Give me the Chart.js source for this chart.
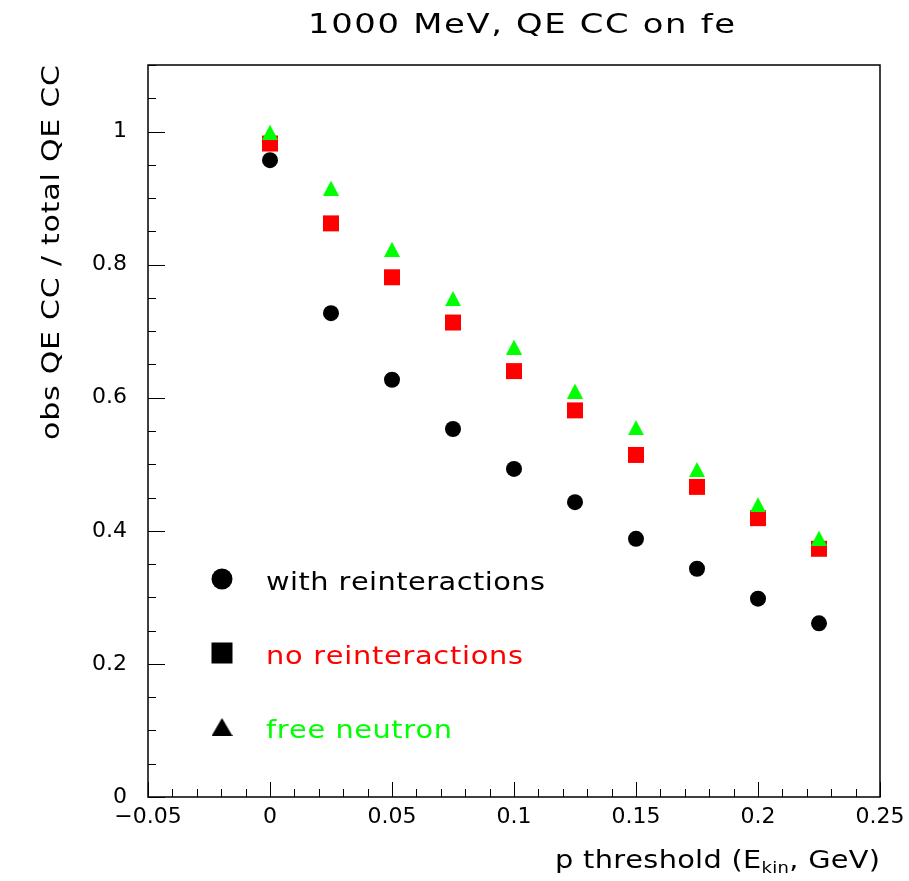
<!DOCTYPE html>
<html>
<head>
<meta charset="utf-8">
<script src="https://cdn.jsdelivr.net/npm/chart.js@4.4.0/dist/chart.umd.min.js"></script>
<style>
  body { margin: 0; background: #fff; }
  #wrap { width: 909px; height: 881px; }
</style>
</head>
<body>
<div id="wrap"><canvas id="myChart"></canvas></div>
<script>
// p threshold (kinetic energy, GeV)
const thresholds = [0, 0.025, 0.05, 0.075, 0.1, 0.125, 0.15, 0.175, 0.2, 0.225];

// observed QE CC / total QE CC
const withReint   = [0.957, 0.727, 0.627, 0.553, 0.493, 0.443, 0.388, 0.343, 0.298, 0.261];
const noReint     = [0.982, 0.862, 0.781, 0.713, 0.640, 0.581, 0.514, 0.466, 0.419, 0.373];
const freeNeutron = [0.999, 0.915, 0.823, 0.749, 0.676, 0.610, 0.555, 0.492, 0.439, 0.389];

const seriesNames = ['with reinteractions', 'no reinteractions', 'free neutron'];
const seriesColors = ['#000000', '#ff0000', '#00ff00'];

const xTickValues = [-0.05, 0, 0.05, 0.1, 0.15, 0.2, 0.25];
const xTickLabels = ['\u22120.05', '0', '0.05', '0.1', '0.15', '0.2', '0.25'];
const yTickValues = [0, 0.2, 0.4, 0.6, 0.8, 1];
const yTickLabels = ['0', '0.2', '0.4', '0.6', '0.8', '1'];

const chartTitle = '1000 MeV, QE CC on fe';
const yTitle = 'obs QE CC / total QE CC';

const FONT = '"DejaVu Sans", sans-serif';

// triangle marker as a small canvas, so it sits centred on its point
function makeTriangle(w, h, color) {
  const c = document.createElement('canvas');
  c.width = w; c.height = h;
  const g = c.getContext('2d');
  g.fillStyle = color;
  g.beginPath();
  g.moveTo(0, h); g.lineTo(w, h); g.lineTo(w / 2, 0);
  g.closePath();
  g.fill();
  return c;
}

const pts = ys => ys.map((y, i) => ({ x: thresholds[i], y: y }));

// draws text char by char, widened (stretch) and spaced out to a given width
function drawSpaced(ctx, parts, x, y, width, stretch) {
  let natural = 0, n = 0;
  parts.forEach(p => {
    ctx.font = p.size + 'px ' + FONT;
    for (const ch of p.text) { natural += ctx.measureText(ch).width * stretch; n++; }
  });
  const gap = n > 1 ? (width - natural) / (n - 1) : 0;
  let cx = x;
  ctx.textAlign = 'left';
  ctx.textBaseline = 'alphabetic';
  parts.forEach(p => {
    ctx.font = p.size + 'px ' + FONT;
    ctx.fillStyle = p.color || '#000';
    for (const ch of p.text) {
      ctx.save();
      ctx.translate(cx, y + (p.dy || 0));
      ctx.scale(stretch, 1);
      ctx.fillText(ch, 0, 0);
      ctx.restore();
      cx += ctx.measureText(ch).width * stretch + gap;
    }
  });
}

const frame = {
  id: 'frame',
  beforeDatasetsDraw(chart) {
    const { ctx, chartArea: a, scales: { x, y } } = chart;
    ctx.save();
    ctx.strokeStyle = '#000';
    ctx.lineWidth = 1.5;
    ctx.strokeRect(a.left, a.top, a.right - a.left, a.bottom - a.top);
    ctx.lineWidth = 1;
    ctx.beginPath();
    // y ticks every 0.05, long ones every 0.2
    for (let i = 0; i <= 22; i++) {
      const py = Math.round(y.getPixelForValue(i * 0.05)) + 0.5;
      const len = i % 4 === 0 ? 17 : 8;
      ctx.moveTo(a.left, py); ctx.lineTo(a.left + len, py);
    }
    // x ticks every 0.01, long ones every 0.05
    for (let i = 0; i <= 30; i++) {
      const px = Math.round(x.getPixelForValue(-0.05 + i * 0.01)) + 0.5;
      const len = i % 5 === 0 ? 15 : 8;
      ctx.moveTo(px, a.bottom); ctx.lineTo(px, a.bottom - len);
    }
    ctx.stroke();
    ctx.restore();
  },
  afterDraw(chart) {
    const { ctx } = chart;
    ctx.save();
    drawSpaced(ctx, [{ text: chartTitle, size: 26 }], 308, 33, 427, 1.3);

    ctx.save();
    ctx.translate(59, 440);
    ctx.rotate(-Math.PI / 2);
    drawSpaced(ctx, [{ text: yTitle, size: 25 }], 0, 0, 375, 1.2);
    ctx.restore();

    drawSpaced(ctx, [
      { text: 'p threshold (E', size: 24 },
      { text: 'kin', size: 15, dy: 5 },
      { text: ', GeV)', size: 24 }
    ], 555, 868, 325, 1.2);

    // legend: black markers, coloured labels
    const legendW = [279, 257, 186];
    chart.data.datasets.forEach((ds, i) => {
      const my = 579 + i * 74;
      ctx.fillStyle = '#000';
      if (ds.legendMarker === 'circle') {
        ctx.beginPath(); ctx.arc(222, my, 10.5, 0, Math.PI * 2); ctx.fill();
      } else if (ds.legendMarker === 'rect') {
        ctx.fillRect(211.5, my - 10.5, 21, 21);
      } else {
        ctx.drawImage(legendTriangle, 211.5, my - 9);
      }
      drawSpaced(ctx, [{ text: ds.label, size: 24, color: seriesColors[i] }], 266, my + 11, legendW[i], 1.2);
    });
    ctx.restore();
  }
};

const legendTriangle = makeTriangle(21, 18, '#000');

new Chart(document.getElementById('myChart'), {
  type: 'scatter',
  data: {
    datasets: [
      { label: seriesNames[0], data: pts(withReint), pointStyle: 'circle', pointRadius: 8,
        backgroundColor: seriesColors[0], borderWidth: 0, order: 3, legendMarker: 'circle' },
      { label: seriesNames[1], data: pts(noReint), pointStyle: 'rect', pointRadius: 11.3,
        backgroundColor: seriesColors[1], borderWidth: 0, order: 2, legendMarker: 'rect' },
      { label: seriesNames[2], data: pts(freeNeutron), pointStyle: makeTriangle(16, 15, seriesColors[2]),
        backgroundColor: seriesColors[2], borderWidth: 0, order: 1, legendMarker: 'triangle' }
    ]
  },
  options: {
    responsive: true,
    maintainAspectRatio: false,
    animation: false,
    events: [],
    layout: { padding: { top: 65, right: 29, left: 0, bottom: 0 } },
    plugins: { legend: { display: false }, tooltip: { enabled: false }, title: { display: false } },
    scales: {
      x: {
        type: 'linear', min: -0.05, max: 0.25,
        grid: { display: false, drawTicks: false },
        border: { display: false },
        afterBuildTicks: s => { s.ticks = xTickValues.map(v => ({ value: v })); },
        afterFit: s => { s.height = 84; s.paddingLeft = 0; s.paddingRight = 0; },
        ticks: {
          autoSkip: false, maxRotation: 0, padding: 7, color: '#000',
          font: { family: FONT, size: 22 },
          callback: (v, i) => xTickLabels[i]
        }
      },
      y: {
        type: 'linear', min: 0, max: 1.1,
        grid: { display: false, drawTicks: false },
        border: { display: false },
        afterBuildTicks: s => { s.ticks = yTickValues.map(v => ({ value: v })); },
        afterFit: s => { s.width = 148; s.paddingTop = 0; s.paddingBottom = 0; },
        ticks: {
          autoSkip: false, padding: 21, color: '#000',
          font: { family: FONT, size: 22 },
          callback: (v, i) => yTickLabels[i]
        }
      }
    }
  },
  plugins: [frame]
});
</script>
</body>
</html>
